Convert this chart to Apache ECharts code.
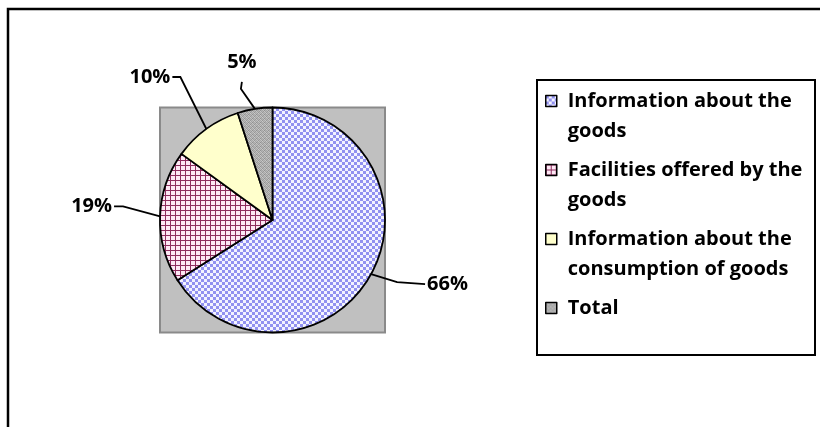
<!DOCTYPE html>
<html>
<head>
<meta charset="utf-8">
<script src="https://cdn.jsdelivr.net/npm/echarts@6/dist/echarts.min.js"></script>
<style>html,body{margin:0;padding:0;background:#fff}#c{width:820px;height:427px}</style>
</head>
<body>
<div id="c"></div>
<script>
// ---- data ----
const categories = [
  'Information about the goods',
  'Facilities offered by the goods',
  'Information about the consumption of goods',
  'Total'
];
const legendLines = [
  ['Information about the', 'goods'],
  ['Facilities offered by the', 'goods'],
  ['Information about the', 'consumption of goods'],
  ['Total', '']
];
const values = [66, 19, 10, 5];

// ---- styling helpers ----
function makePattern(size, draw) {
  const c = document.createElement('canvas');
  c.width = size; c.height = size;
  const ctx = c.getContext('2d');
  draw(ctx);
  return { image: c, repeat: 'repeat' };
}
const blueChecker = makePattern(6, function (ctx) {
  ctx.fillStyle = '#f3f3ff'; ctx.fillRect(0, 0, 6, 6);
  ctx.fillStyle = '#9191f0'; ctx.fillRect(0, 0, 3, 3); ctx.fillRect(3, 3, 3, 3);
});
const redGrid = makePattern(5, function (ctx) {
  ctx.fillStyle = '#fde8f4'; ctx.fillRect(0, 0, 5, 5);
  ctx.fillStyle = '#8e2d5e'; ctx.fillRect(0, 0, 5, 1); ctx.fillRect(0, 0, 1, 5);
});
const yellow = '#ffffcc';
const grayMottle = makePattern(4, function (ctx) {
  const g = ['#a8a8a8', '#c4c4c4', '#969696', '#b8b8b8',
             '#bcbcbc', '#9c9c9c', '#cacaca', '#a2a2a2',
             '#909090', '#b2b2b2', '#a6a6a6', '#c0c0c0',
             '#c6c6c6', '#a0a0a0', '#b6b6b6', '#989898'];
  for (let i = 0; i < 16; i++) { ctx.fillStyle = g[i]; ctx.fillRect(i % 4, Math.floor(i / 4), 1, 1); }
});
const fills = [blueChecker, redGrid, yellow, grayMottle];

// label line offsets relative to sector edge point: [elbowDx, elbowDy, endDx, endDy]
const labelOffsets = [
  [26, 8, 54, 10],
  [-37, -10, -46, -10],
  [-26, -52, -34, -52],
  [-14, -20, -13, -27]
];

const cx = 272.5, cy = 220, r = 112.5;
const font = 'Open Sans';

const chart = echarts.init(document.getElementById('c'), null, { renderer: 'canvas' });
chart.setOption({
  animation: false,
  backgroundColor: '#fff',
  graphic: [
    { type: 'rect', z: 0, shape: { x: 8, y: 9, width: 900, height: 500 },
      style: { fill: 'none', stroke: '#000', lineWidth: 2.5 } },
    { type: 'rect', z: 0, shape: { x: cx - r, y: cy - r, width: 2 * r, height: 2 * r },
      style: { fill: '#c0c0c0', stroke: '#8a8a8a', lineWidth: 2 } },
    { type: 'rect', z: 0, shape: { x: 537, y: 80, width: 278, height: 275 },
      style: { fill: '#fff', stroke: '#000', lineWidth: 2 } }
  ],
  legend: {
    orient: 'vertical',
    left: 545,
    top: 56,
    padding: 0,
    itemGap: -21,
    itemWidth: 11,
    itemHeight: 11,
    icon: 'rect',
    selectedMode: false,
    itemStyle: { borderColor: '#000', borderWidth: 1.5 },
    textStyle: { fontFamily: font, fontWeight: 'bold', fontSize: 20, lineHeight: 30, color: '#000', padding: [0, 0, 0, 6] },
    formatter: function (name) {
      const l = legendLines[categories.indexOf(name)];
      return '\u00a0\n' + l[0] + '\n' + (l[1] || '\u00a0');
    },
    data: categories
  },
  series: [{
    type: 'pie',
    center: [cx, cy],
    radius: r,
    startAngle: 90,
    clockwise: true,
    z: 3,
    itemStyle: { borderColor: '#000', borderWidth: 1.8 },
    emphasis: { disabled: true },
    label: {
      show: true,
      position: 'outside',
      formatter: '{d}%',
      fontFamily: font, fontWeight: 'bold', fontSize: 20, color: '#000'
    },
    labelLine: { show: true, length: 20, length2: 20, lineStyle: { color: '#000', width: 1.8 } },
    labelLayout: function (p) {
      const pts = p.labelLinePoints;
      if (!pts) return {};
      const e = pts[0];
      const o = labelOffsets[p.dataIndex];
      const elbow = [e[0] + o[0], e[1] + o[1]];
      const end = [e[0] + o[2], e[1] + o[3]];
      let x, y, align, va;
      if (p.dataIndex === 3) { x = end[0]; y = end[1] - 10; align = 'center'; va = 'bottom'; }
      else if (o[2] > 0) { x = end[0] + 2; y = end[1]; align = 'left'; va = 'middle'; }
      else { x = end[0] - 2; y = end[1]; align = 'right'; va = 'middle'; }
      return { x: x, y: y, align: align, verticalAlign: va, labelLinePoints: [e, elbow, end] };
    },
    data: categories.map(function (n, i) {
      return { name: n, value: values[i], itemStyle: { color: fills[i] } };
    })
  }]
});
</script>
</body>
</html>
